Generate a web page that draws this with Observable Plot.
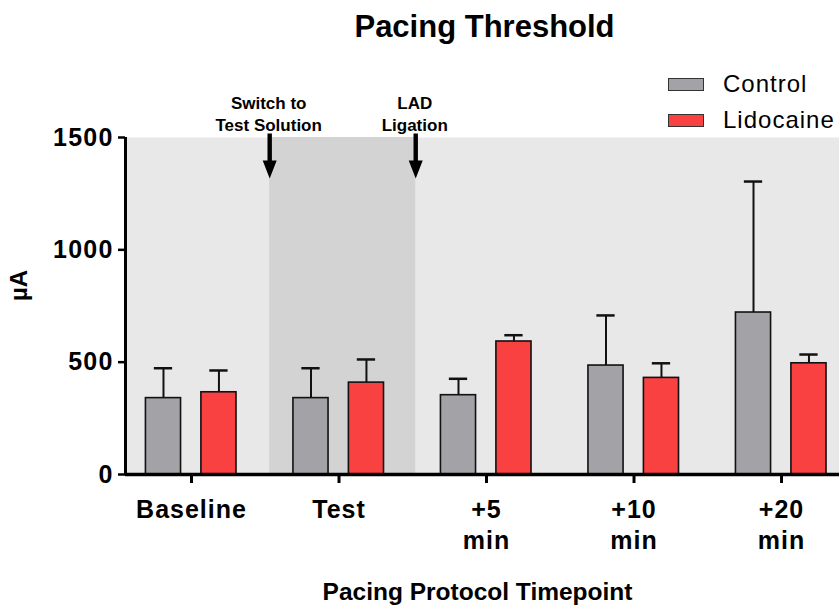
<!DOCTYPE html>
<html>
<head>
<meta charset="utf-8">
<script src="https://cdn.jsdelivr.net/npm/d3@7"></script>
<script src="https://cdn.jsdelivr.net/npm/@observablehq/plot@0.6"></script>
<style>
  html, body { margin: 0; padding: 0; background: white; }
  #wrap { position: relative; width: 839px; height: 610px; overflow: hidden; font-family: "Liberation Sans", Arial, sans-serif; }
  #legend { position: absolute; left: 668px; top: 66px; }
  .row { display: flex; align-items: center; height: 36px; }
  .sw { width: 34px; height: 11px; border: 1.5px solid #333; margin-right: 19px; }
  .lab { font-size: 24px; color: #000; white-space: nowrap; letter-spacing: 1px; }
  svg [aria-label="x-axis tick label"] text { letter-spacing: 1px; }
  svg [aria-label="y-axis tick label"] text { letter-spacing: 1.2px; }
</style>
</head>
<body>
<div id="wrap"></div>
<script>
// ---- data ----
const groups = ["Baseline", "Test", "+5\nmin", "+10\nmin", "+20\nmin"];
const series = ["Control", "Lidocaine"];
const controlMean = [340, 340, 353, 485, 721];
const controlErr = [133, 133, 73, 223, 583];
const lidoMean = [366, 409, 592, 430, 495];
const lidoErr = [97, 103, 28, 65, 39];
const yTicks = [0, 500, 1000, 1500];
const events = ["Switch to\nTest Solution", "LAD\nLigation"];
const eventAt = [0.53, 1.52];

// ---- layout / style ----
const colors = ["#a3a2a7", "#f94141"];
const offsets = {Control: -0.19, Lidocaine: 0.186};
const halfW = 0.119, capHalf = 0.062;
const xDomain = [-0.4475, 4.393];

const rows = [];
groups.forEach((g, i) => {
  rows.push({i, s: "Control", mean: controlMean[i], err: controlErr[i]});
  rows.push({i, s: "Lidocaine", mean: lidoMean[i], err: lidoErr[i]});
});
const cx = d => d.i + offsets[d.s];
const eventRows = events.map((t, k) => ({t, at: eventAt[k]}));

const arrowSymbol = {
  draw(ctx) {
    ctx.moveTo(-2.2, -4);
    ctx.lineTo(2.2, -4);
    ctx.lineTo(2.2, 23);
    ctx.lineTo(7, 23);
    ctx.lineTo(0, 41);
    ctx.lineTo(-7, 23);
    ctx.lineTo(-2.2, 23);
    ctx.closePath();
  }
};

const font = "'Liberation Sans', Arial, sans-serif";

const chart = Plot.plot({
  width: 839,
  height: 610,
  marginLeft: 125,
  marginRight: 0,
  marginTop: 137,
  marginBottom: 136,
  style: {fontFamily: font, color: "#000", background: "white", overflow: "visible"},
  x: {type: "linear", domain: xDomain},
  y: {domain: [0, 1500]},
  color: {domain: series, range: colors},
  marks: [
    Plot.frame({fill: "#e8e8e8", stroke: null}),
    Plot.rect([eventAt], {x1: d => d[0], x2: d => d[1], fill: "#d3d3d3"}),
    Plot.ruleX(rows, {x: cx, y1: "mean", y2: d => d.mean + d.err, stroke: "#111", strokeWidth: 2}),
    Plot.ruleY(rows, {y: d => d.mean + d.err, x1: d => cx(d) - capHalf, x2: d => cx(d) + capHalf, stroke: "#111", strokeWidth: 2.5}),
    Plot.rect(rows, {x1: d => cx(d) - halfW, x2: d => cx(d) + halfW, y1: () => 0, y2: "mean", fill: "s", stroke: "#111", strokeWidth: 1.6}),
    Plot.ruleY([0], {stroke: "#000", strokeWidth: 3.5}),
    Plot.ruleX([xDomain[0]], {stroke: "#000", strokeWidth: 3}),
    Plot.axisY({ticks: yTicks, tickSize: 7, tickPadding: 5, strokeWidth: 2.5, fontSize: 25, fontWeight: "bold", tickFormat: d => String(d), label: null}),
    Plot.axisX({ticks: groups.map((g, i) => i), tickSize: 9, tickPadding: 12, strokeWidth: 3, fontSize: 25, fontWeight: "bold", lineHeight: 1.25, tickFormat: i => groups[i], label: null}),
    // event arrows and labels
    Plot.dot(eventRows, {x: "at", frameAnchor: "top", symbol: arrowSymbol, fill: "#000", stroke: "none"}),
    Plot.text(eventRows, {x: "at", text: "t", frameAnchor: "top", dy: -25, dx: -1, fontSize: 17, fontWeight: "bold", lineHeight: 1.3, lineAnchor: "middle"}),
    // title and axis labels
    Plot.text(["Pacing Threshold"], {frameAnchor: "top", dy: -110, dx: 2, fontSize: 31, fontWeight: "bold", lineAnchor: "middle"}),
    Plot.text(["Pacing Protocol Timepoint"], {frameAnchor: "bottom", dy: 118, dx: -5, fontSize: 24.5, fontWeight: "bold", lineAnchor: "middle"}),
    Plot.text(["µA"], {frameAnchor: "left", dx: -106, dy: -5, rotate: -90, fontSize: 24, fontWeight: "bold", lineAnchor: "middle"})
  ]
});

const wrap = document.getElementById("wrap");
wrap.appendChild(chart);

// legend
const legend = document.createElement("div");
legend.id = "legend";
series.forEach((s, k) => {
  const row = document.createElement("div");
  row.className = "row";
  const sw = document.createElement("div");
  sw.className = "sw";
  sw.style.background = colors[k];
  const lab = document.createElement("span");
  lab.className = "lab";
  lab.textContent = s;
  row.appendChild(sw);
  row.appendChild(lab);
  legend.appendChild(row);
});
wrap.appendChild(legend);
</script>
</body>
</html>
